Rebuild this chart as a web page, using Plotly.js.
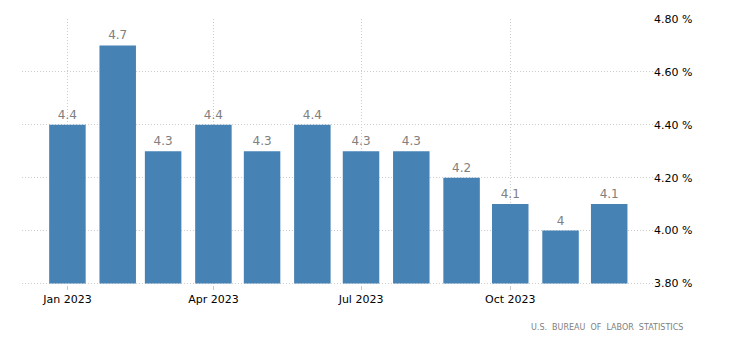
<!DOCTYPE html>
<html>
<head>
<meta charset="utf-8">
<script src="https://cdn.plot.ly/plotly-3.0.1.min.js"></script>
<style>html,body{margin:0;padding:0;background:#fff;}#chart{width:730px;height:351px;}</style>
</head>
<body>
<div id="chart"></div>
<script>
const months = ['2023-01-01','2023-02-01','2023-03-01','2023-04-01','2023-05-01','2023-06-01','2023-07-01','2023-08-01','2023-09-01','2023-10-01','2023-11-01','2023-12-01'];
const values = [4.4, 4.7, 4.3, 4.4, 4.3, 4.4, 4.3, 4.3, 4.2, 4.1, 4.0, 4.1];
const labels = ['4.4','4.7','4.3','4.4','4.3','4.4','4.3','4.3','4.2','4.1','4','4.1'];
const yTickVals = [3.8, 4.0, 4.2, 4.4, 4.6, 4.8];
const yTickText = ['3.80 %','4.00 %','4.20 %','4.40 %','4.60 %','4.80 %'];
const xTickVals = ['2023-01-01','2023-04-01','2023-07-01','2023-10-01'];
const xTickText = ['Jan 2023','Apr 2023','Jul 2023','Oct 2023'];
const sourceText = 'U.S.  BUREAU  OF  LABOR  STATISTICS';

const DAY = 86400000;
const BASE = 3.8;
const trace = {
  type: 'bar',
  x: months,
  y: values.map(v => v - BASE),
  base: BASE,
  width: months.map(() => 22.5 * DAY),
  marker: {color: '#4682b4'},
  text: labels,
  textposition: 'outside',
  textfont: {family: 'DejaVu Sans', size: 12, color: '#808080'},
  cliponaxis: false,
  hoverinfo: 'skip'
};

const grid = '#cccccc';
const layout = {
  width: 730, height: 351,
  margin: {l: 22, r: 77, t: 19, b: 66},
  paper_bgcolor: '#fff', plot_bgcolor: '#fff',
  showlegend: false,
  font: {family: 'DejaVu Sans', size: 11, color: '#000'},
  xaxis: {
    type: 'date',
    range: ['2022-12-04', '2023-12-28'],
    tickmode: 'array', tickvals: xTickVals, ticktext: xTickText,
    showgrid: true, gridcolor: grid, griddash: '1px,2px', gridwidth: 1,
    ticks: 'outside', ticklen: 4, tickcolor: '#c8c8c8',
    showline: false, zeroline: false,
    tickfont: {family: 'DejaVu Sans', size: 11, color: '#000'}
  },
  yaxis: {
    side: 'right',
    range: [3.794, 4.8],
    tickmode: 'array', tickvals: yTickVals, ticktext: yTickText,
    showgrid: true, gridcolor: grid, griddash: '1px,2px', gridwidth: 1,
    zeroline: false, showline: false, ticks: '',
    tickfont: {family: 'DejaVu Sans', size: 11, color: '#000'}
  },
  annotations: [{
    text: sourceText, xref: 'paper', yref: 'paper',
    x: 1.05, y: -0.16, xanchor: 'right', yanchor: 'middle', showarrow: false,
    font: {family: 'DejaVu Sans', size: 8, color: '#808080'}
  }]
};

Plotly.newPlot('chart', [trace], layout, {staticPlot: true, displayModeBar: false});
</script>
</body>
</html>
